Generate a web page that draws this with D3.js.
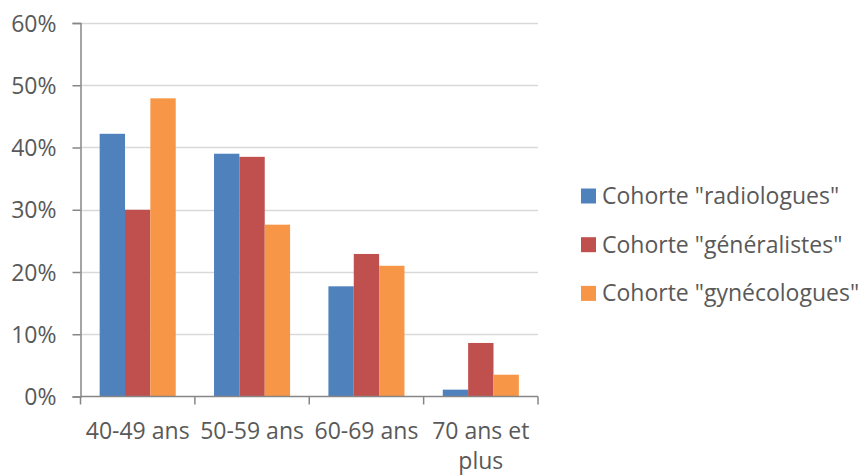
<!DOCTYPE html>
<html>
<head>
<meta charset="utf-8">
<script src="https://cdn.jsdelivr.net/npm/d3@7"></script>
<style>
  body { margin: 0; background: #fff; }
  svg { display: block; }
  text { font-family: "Open Sans", "Liberation Sans", sans-serif; fill: #595959; }
</style>
</head>
<body>
<svg id="chart" width="866" height="475"></svg>
<script>
const categories = ["40-49 ans", "50-59 ans", "60-69 ans", "70 ans et plus"];
const categoryLines = [["40-49 ans"], ["50-59 ans"], ["60-69 ans"], ["70 ans et", "plus"]];
const seriesNames = ['Cohorte "radiologues"', 'Cohorte "généralistes"', 'Cohorte "gynécologues"'];
const radiologues = [0.422, 0.390, 0.177, 0.011];
const generalistes = [0.300, 0.385, 0.229, 0.086];
const gynecologues = [0.479, 0.276, 0.210, 0.035];
const yTicks = [0, 0.1, 0.2, 0.3, 0.4, 0.5, 0.6];
const colors = ["#4F81BD", "#C0504D", "#F79646"];

(function () {
const seriesValues = [radiologues, generalistes, gynecologues];
const svg = d3.select("#chart");
const mLeft = 80.5, mRight = 538, mTop = 23, mBottom = 396.5;
const fs = "23px";

const x = d3.scaleBand().domain(categories).range([mLeft, mRight]).paddingInner(0.335).paddingOuter(0.1675);
const xs = d3.scaleBand().domain(d3.range(seriesNames.length)).range([0, x.bandwidth()]);
const y = d3.scaleLinear().domain([0, 0.6]).range([mBottom, mTop]);

// gridlines
svg.append("g").selectAll("line").data(yTicks.slice(1)).join("line")
  .attr("x1", mLeft).attr("x2", mRight)
  .attr("y1", d => Math.round(y(d)) + 0.5).attr("y2", d => Math.round(y(d)) + 0.5)
  .attr("stroke", "#D9D9D9").attr("stroke-width", 1.5);

// bars
const groups = svg.append("g").selectAll("g").data(categories).join("g")
  .attr("transform", c => `translate(${x(c)},0)`);
groups.selectAll("rect").data((c, i) => seriesValues.map((s, j) => ({ v: s[i], j }))).join("rect")
  .attr("x", d => xs(d.j))
  .attr("width", xs.bandwidth())
  .attr("y", d => y(d.v))
  .attr("height", d => y(0) - y(d.v))
  .attr("fill", d => colors[d.j]);

// y axis
const yAxis = d3.axisLeft(y).tickValues(yTicks).tickFormat(d3.format(".0%")).tickSize(8).tickPadding(16);
const gy = svg.append("g").attr("transform", `translate(${mLeft},0)`).call(yAxis);
gy.select(".domain").attr("stroke", "#868686").attr("stroke-width", 1.5);
gy.selectAll(".tick line").attr("stroke", "#868686").attr("stroke-width", 1.5);
gy.selectAll("text").style("font-size", fs).attr("fill", "#595959").attr("font-family", null).attr("dy", "0.35em");

// x axis
const xEdge = d3.scaleLinear().domain([0, categories.length]).range([mLeft, mRight]);
const gx = svg.append("g");
gx.append("line").attr("x1", mLeft).attr("x2", mRight).attr("y1", mBottom).attr("y2", mBottom)
  .attr("stroke", "#868686").attr("stroke-width", 1.5);
gx.selectAll("line.tk").data(d3.range(categories.length + 1)).join("line").attr("class", "tk")
  .attr("x1", d => xEdge(d)).attr("x2", d => xEdge(d))
  .attr("y1", mBottom).attr("y2", mBottom + 8)
  .attr("stroke", "#868686").attr("stroke-width", 1.5);
gx.selectAll("text").data(categories).join("text")
  .attr("x", c => x(c) + x.bandwidth() / 2)
  .attr("y", 431)
  .attr("text-anchor", "middle")
  .style("font-size", fs)
  .selectAll("tspan").data((c, i) => categoryLines[i]).join("tspan")
  .attr("x", function () { return this.parentNode.getAttribute("x"); })
  .attr("dy", (d, k) => k === 0 ? "0.35em" : "1.3em")
  .text(d => d);

// legend
const lg = svg.append("g").selectAll("g").data(seriesNames).join("g")
  .attr("transform", (d, i) => `translate(581,${196 + i * 48.7})`);
lg.append("rect").attr("x", 0).attr("y", -7.5).attr("width", 15).attr("height", 15)
  .attr("fill", (d, i) => colors[i]);
lg.append("text").attr("x", 21).attr("y", 0).attr("dy", "0.35em")
  .style("font-size", fs).text(d => d);
})();
</script>
</body>
</html>
